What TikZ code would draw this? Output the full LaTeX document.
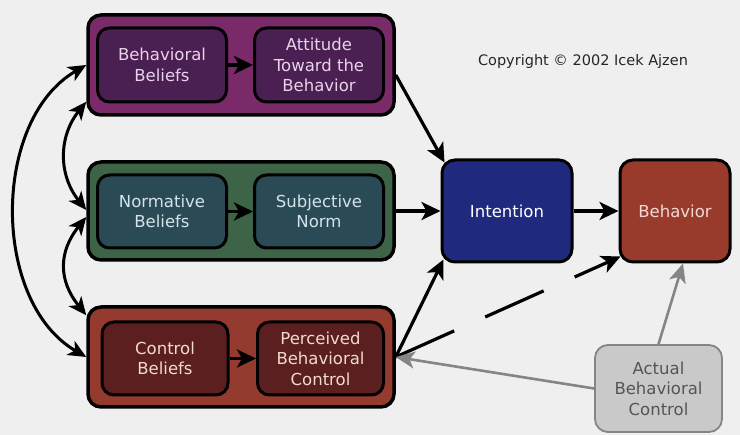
\documentclass[tikz,border=0pt]{standalone}
\usepackage{fontspec}
\setmainfont{DejaVu Sans}
\usetikzlibrary{arrows.meta}
\definecolor{bg}{HTML}{EFEFEF}
\definecolor{puOut}{HTML}{7A2A68}
\definecolor{puIn}{HTML}{4A2052}
\definecolor{puTx}{HTML}{EAD2EA}
\definecolor{grOut}{HTML}{3E6448}
\definecolor{grIn}{HTML}{2A4A56}
\definecolor{grTx}{HTML}{D2E4EA}
\definecolor{rdOut}{HTML}{953A2E}
\definecolor{rdIn}{HTML}{5A1F1E}
\definecolor{rdTx}{HTML}{F2DAD2}
\definecolor{blu}{HTML}{1F2A7E}
\definecolor{bhv}{HTML}{983A2C}
\definecolor{gbox}{HTML}{C9C9C9}
\definecolor{gline}{HTML}{858585}
\definecolor{gtext}{HTML}{555555}
\tikzset{
  outerbox/.style={draw=black, line width=3.5pt, rounded corners=13pt, minimum width=306pt, minimum height=100pt, inner sep=0pt},
  innerbox/.style={draw=black, line width=3pt, rounded corners=12pt, minimum width=129pt, minimum height=74pt, align=center, inner sep=0pt, font=\fontsize{16.5}{20.5}\selectfont},
  bigbox/.style={draw=black, line width=3pt, rounded corners=13pt, align=center, inner sep=0pt, font=\fontsize{16.5}{20.5}\selectfont},
  arr/.style={line width=3.2pt, -{Stealth[length=19pt,width=18pt,inset=5pt]}},
  darr/.style={line width=3pt, {Stealth[length=18pt,width=16pt,inset=5pt]}-{Stealth[length=18pt,width=16pt,inset=5pt]}},
  garr/.style={line width=2.6pt, draw=gline, -{Stealth[length=19pt,width=17pt,inset=5pt]}},
}
\begin{document}
\begin{tikzpicture}[x=1pt,y=-1pt]
\fill[bg] (0,0) rectangle (740,435);
\useasboundingbox (0,0) rectangle (740,435);
% outer groups
\node[outerbox, fill=puOut] (pu) at (241,65) {};
\node[outerbox, fill=grOut, minimum height=98pt] (gr) at (241,211) {};
\node[outerbox, fill=rdOut] (rd) at (241,357) {};
% inner boxes
\node[innerbox, fill=puIn, text=puTx] (bb) at (162,65) {Behavioral\\Beliefs};
\node[innerbox, fill=puIn, text=puTx] (at) at (319,65) {Attitude\\Toward the\\Behavior};
\node[innerbox, fill=grIn, text=grTx, minimum height=73pt] (nb) at (162,211.5) {Normative\\Beliefs};
\node[innerbox, fill=grIn, text=grTx, minimum height=73pt] (sn) at (319,211.5) {Subjective\\Norm};
\node[innerbox, fill=rdIn, text=rdTx, minimum height=73pt, minimum width=126pt] (cb) at (165,358.5) {Control\\Beliefs};
\node[innerbox, fill=rdIn, text=rdTx, minimum height=73pt, minimum width=126pt] (pb) at (320.5,358.5) {Perceived\\Behavioral\\Control};
% right boxes
\node[bigbox, fill=blu, text=white, minimum width=130pt, minimum height=102pt] (in) at (507,211) {Intention};
\node[bigbox, fill=bhv, text=rdTx, minimum width=110pt, minimum height=102pt] (bh) at (675,211) {Behavior};
\node[bigbox, draw=gline, line width=1.8pt, fill=gbox, text=gtext, minimum width=127pt, minimum height=87pt] (ac) at (658.5,388.5) {Actual\\Behavioral\\Control};
% copyright
\node[font=\fontsize{14.5}{16}\selectfont, text=black!85] (cp) at (583,62) {Copyright © 2002 Icek Ajzen};
% inner arrows
\draw[arr] (bb) -- (at);
\draw[arr] (nb) -- (sn);
\draw[arr] (cb) -- (pb);
% to intention
\draw[arr] ([yshift=-10pt]pu.east) -- ([shift={(4pt,-4pt)}]in.north west);
\draw[arr] (gr.east) -- (in.west);
\draw[arr] (rd.east) -- ([shift={(3pt,4pt)}]in.south west);
\draw[arr] (in.east) -- (bh.west);
% dashed to behavior
\draw[arr, dash pattern=on 64pt off 34pt] (rd.east) -- ([shift={(2pt,7pt)}]bh.south west);
% gray arrows
\draw[garr] (ac.west) -- (rd.east);
\draw[garr] (ac.north) -- ([xshift=8pt]bh.south);
% left curved
\draw[darr] (pu.west) .. controls +(-95,55) and +(-95,-55) .. (rd.west);
\draw[darr] ([yshift=15pt]pu.south west) .. controls +(-28,35) and +(-28,-35) .. ([yshift=1pt]gr.west);
\draw[darr] ([yshift=-6pt]gr.west) .. controls +(-28,35) and +(-28,-35) .. ([yshift=-10pt]rd.north west);
\end{tikzpicture}
\end{document}
